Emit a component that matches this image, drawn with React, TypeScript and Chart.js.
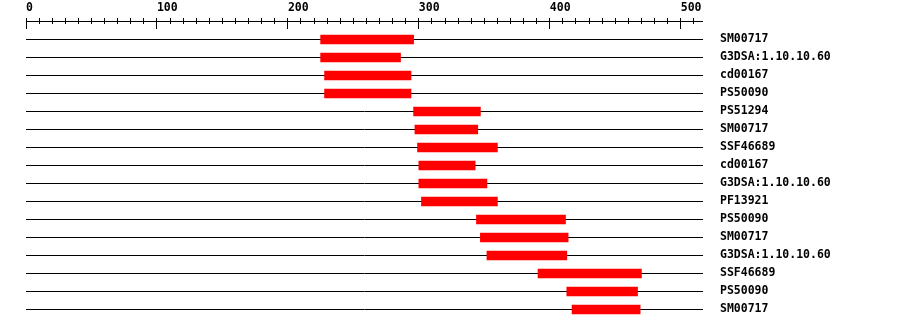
import React, { useEffect, useRef } from "react";
import { Chart, registerables } from "chart.js";

Chart.register(...registerables);

const categories = [
  "SM00717",
  "G3DSA:1.10.10.60",
  "cd00167",
  "PS50090",
  "PS51294",
  "SM00717",
  "SSF46689",
  "cd00167",
  "G3DSA:1.10.10.60",
  "PF13921",
  "PS50090",
  "SM00717",
  "G3DSA:1.10.10.60",
  "SSF46689",
  "PS50090",
  "SM00717",
];
const starts = [225, 225, 228, 228, 296, 297, 299, 300, 300, 302, 344, 347, 352, 391, 413, 417];
const ends = [296, 286, 294, 294, 347, 345, 360, 343, 352, 360, 412, 414, 413, 470, 467, 469];
const xTickValues = [0, 100, 200, 300, 400, 500];
const minorStep = 10;
const seqLength = 517;

const FONT = { family: "'DejaVu Sans Mono', monospace", size: 11.5, weight: "bold" as const };

const rulerPlugin = {
  id: "ruler",
  afterDraw(chart: any) {
    const x = chart.scales.x;
    const ctx = chart.ctx;
    const { right } = chart.chartArea;
    ctx.save();
    ctx.strokeStyle = "#000";
    ctx.lineWidth = 1;
    const x0 = Math.floor(x.getPixelForValue(0));
    ctx.beginPath();
    ctx.moveTo(x0, 21.5);
    ctx.lineTo(right, 21.5);
    ctx.stroke();
    for (let v = 0; v <= seqLength; v += minorStep) {
      const px = Math.floor(x.getPixelForValue(v)) + 0.5;
      const major = v % 100 === 0;
      ctx.beginPath();
      ctx.moveTo(px, 18);
      ctx.lineTo(px, major ? 29 : 24);
      ctx.stroke();
    }
    ctx.restore();
  },
};

export default function App() {
  const ref = useRef<HTMLCanvasElement | null>(null);
  useEffect(() => {
    if (!ref.current) return;
    const chart = new Chart(ref.current, {
      type: "bar",
      data: {
        labels: categories,
        datasets: [
          {
            data: starts.map((s, i) => [s, ends[i]]) as any,
            backgroundColor: "#ff0000",
            borderWidth: 0,
            barThickness: 9,
          },
        ],
      },
      options: {
        indexAxis: "y",
        animation: false,
        responsive: false,
        layout: { padding: { left: 26, right: 0, top: 0, bottom: 9.5 } },
        plugins: { legend: { display: false }, tooltip: { enabled: false } },
        scales: {
          x: {
            type: "linear",
            position: "top",
            min: 0,
            max: seqLength,
            afterFit: (s: any) => {
              s.height = 30.5;
              s.paddingLeft = 0;
              s.paddingRight = 0;
            },
            afterBuildTicks: (s: any) => {
              s.ticks = xTickValues.map((v) => ({ value: v }));
            },
            grid: { display: true, drawOnChartArea: false, drawTicks: false, color: "rgba(0,0,0,0)" },
            border: { display: false },
            ticks: {
              align: "start",
              padding: 16,
              color: "#000",
              font: FONT,
              maxRotation: 0,
              autoSkip: false,
            },
          },
          y: {
            type: "category",
            position: "right",
            offset: true,
            afterFit: (s: any) => {
              s.width = 197;
              s.paddingTop = 0;
              s.paddingBottom = 0;
            },
            grid: { offset: false, color: "#000", lineWidth: 1, drawTicks: false },
            border: { display: false },
            ticks: { padding: 17, color: "#000", font: FONT, autoSkip: false },
          },
        },
      },
      plugins: [rulerPlugin],
    });
    return () => chart.destroy();
  }, []);
  return (
    <div style={{ position: "absolute", left: 0, top: 0, width: 900, height: 328, background: "#fff" }}>
      <canvas ref={ref} width={900} height={328} style={{ display: "block" }} />
    </div>
  );
}
